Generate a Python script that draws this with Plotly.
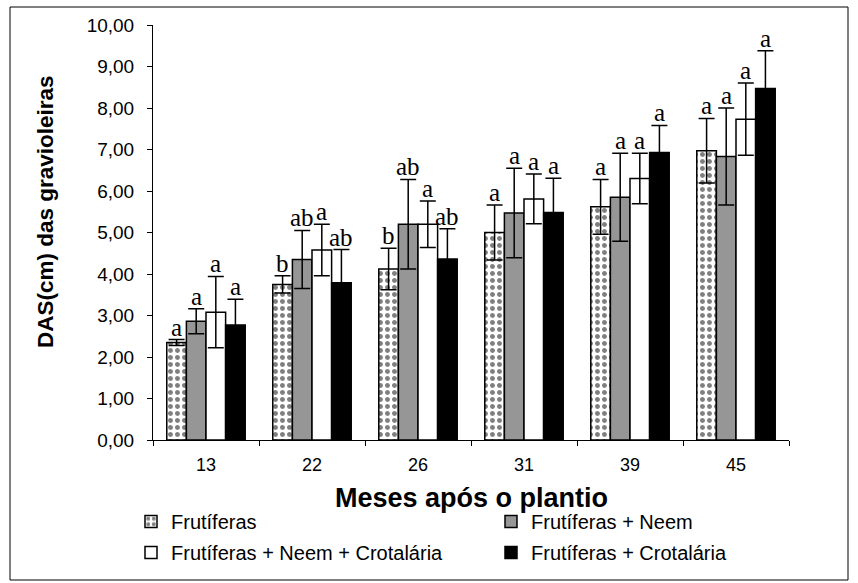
import plotly.graph_objects as go

meses = ["13", "22", "26", "31", "39", "45"]

series_names = [
    "Frutíferas",
    "Frutíferas + Neem",
    "Frutíferas + Neem + Crotalária",
    "Frutíferas + Crotalária",
]

frut = [2.35, 3.75, 4.12, 5.00, 5.62, 6.97]
frut_neem = [2.86, 4.35, 5.20, 5.47, 5.85, 6.83]
frut_neem_crot = [3.08, 4.58, 5.20, 5.81, 6.30, 7.73]
frut_crot = [2.77, 3.79, 4.36, 5.48, 6.93, 8.47]

err_frut = [0.07, 0.21, 0.50, 0.66, 0.66, 0.78]
err_frut_neem = [0.30, 0.70, 1.08, 1.08, 1.06, 1.17]
err_frut_neem_crot = [0.86, 0.62, 0.56, 0.60, 0.61, 0.87]
err_frut_crot = [0.62, 0.80, 0.73, 0.83, 0.65, 0.91]

let_frut = ["a", "b", "b", "a", "a", "a"]
let_frut_neem = ["a", "ab", "ab", "a", "a", "a"]
let_frut_neem_crot = ["a", "a", "a", "a", "a", "a"]
let_frut_crot = ["a", "ab", "ab", "a", "a", "a"]

values = [frut, frut_neem, frut_neem_crot, frut_crot]
errors = [err_frut, err_frut_neem, err_frut_neem_crot, err_frut_crot]
letters = [let_frut, let_frut_neem, let_frut_neem_crot, let_frut_crot]

fills = ["white", "#969696", "white", "black"]
patterns = [
    dict(shape=".", fgcolor="black", bgcolor="white", size=7, solidity=0.4, fillmode="overlay"),
    dict(shape=""),
    dict(shape=""),
    dict(shape=""),
]
legend_of = ["legend", "legend2", "legend", "legend2"]

fig = go.Figure()
for i in range(4):
    fig.add_trace(go.Bar(
        x=meses,
        y=values[i],
        name=series_names[i],
        legend=legend_of[i],
        legendgroup="g%d" % i,
        marker=dict(color=fills[i], line=dict(color="black", width=1.5), pattern=patterns[i]),
        error_y=dict(type="data", array=errors[i], visible=True, color="black", thickness=1.5, width=8),
        hoverinfo="x+y",
    ))

# significance letters above the error bars
n = len(meses)
bargap = 0.26
offsets = [-1.5, -0.5, 0.5, 1.5]
bar_w = (1 - bargap) / 4
for i in range(4):
    for j in range(n):
        fig.add_annotation(
            x=j + offsets[i] * bar_w,
            y=values[i][j] + errors[i][j],
            xref="x", yref="y",
            text=letters[i][j],
            showarrow=False,
            yanchor="bottom",
            xanchor="center",
            yshift=-3,
            font=dict(family="Liberation Serif, Times New Roman, serif", size=25, color="black"),
        )

L, R, T, B = 153, 69, 25, 143
W, H = 858, 583
pw, ph = W - L - R, H - T - B

def px_x(p):
    return (p - L) / pw

def px_y(p):
    return (H - B - p) / ph

# outer frame
fig.add_shape(
    type="rect", xref="paper", yref="paper",
    x0=px_x(10), x1=px_x(848),
    y0=px_y(580), y1=px_y(7),
    line=dict(color="black", width=1), fillcolor="rgba(0,0,0,0)", layer="below",
)

sans = "Liberation Sans, Arial, sans-serif"

# axis titles
fig.add_annotation(
    x=px_x(45), y=px_y(212), xref="paper", yref="paper",
    text="<b>DAS(cm) das gravioleiras</b>", textangle=-90,
    showarrow=False, xanchor="center", yanchor="middle",
    font=dict(family=sans, size=22.5, color="black"),
)
fig.add_annotation(
    x=0.5, y=px_y(498), xref="paper", yref="paper",
    text="<b>Meses após o plantio</b>",
    showarrow=False, xanchor="center", yanchor="middle",
    font=dict(family=sans, size=27, color="black"),
)

legend_common = dict(
    orientation="v",
    yref="container", yanchor="top",
    xanchor="left",
    font=dict(family=sans, size=20, color="black"),
    traceorder="grouped",
    tracegroupgap=2,
    itemwidth=30,
    bgcolor="rgba(0,0,0,0)",
    borderwidth=0,
)

fig.update_layout(
    width=W, height=H,
    margin=dict(l=L, r=R, t=T, b=B, pad=0, autoexpand=False),
    paper_bgcolor="white",
    plot_bgcolor="white",
    separators=",.",
    barmode="group",
    bargap=bargap,
    bargroupgap=0,
    font=dict(family=sans, color="black"),
    showlegend=True,
    legend=dict(legend_common, x=px_x(131), y=1 - 502 / H),
    legend2=dict(legend_common, x=px_x(491), y=1 - 502 / H),
    xaxis=dict(
        type="category",
        range=[-0.5, n - 0.5],
        showline=True, linecolor="black", linewidth=1,
        ticks="outside", ticklen=5, tickcolor="black", tickson="boundaries",
        ticklabelstandoff=8,
        showgrid=False,
        tickfont=dict(family=sans, size=18, color="black"),
    ),
    yaxis=dict(
        range=[0, 10],
        tickmode="linear", tick0=0, dtick=1,
        tickformat=".2f",
        showline=True, linecolor="black", linewidth=1,
        ticks="outside", ticklen=5, tickcolor="black",
        ticklabelstandoff=9,
        showgrid=False, zeroline=False,
        tickfont=dict(family=sans, size=19, color="black"),
    ),
)

fig.write_html("out.html")
